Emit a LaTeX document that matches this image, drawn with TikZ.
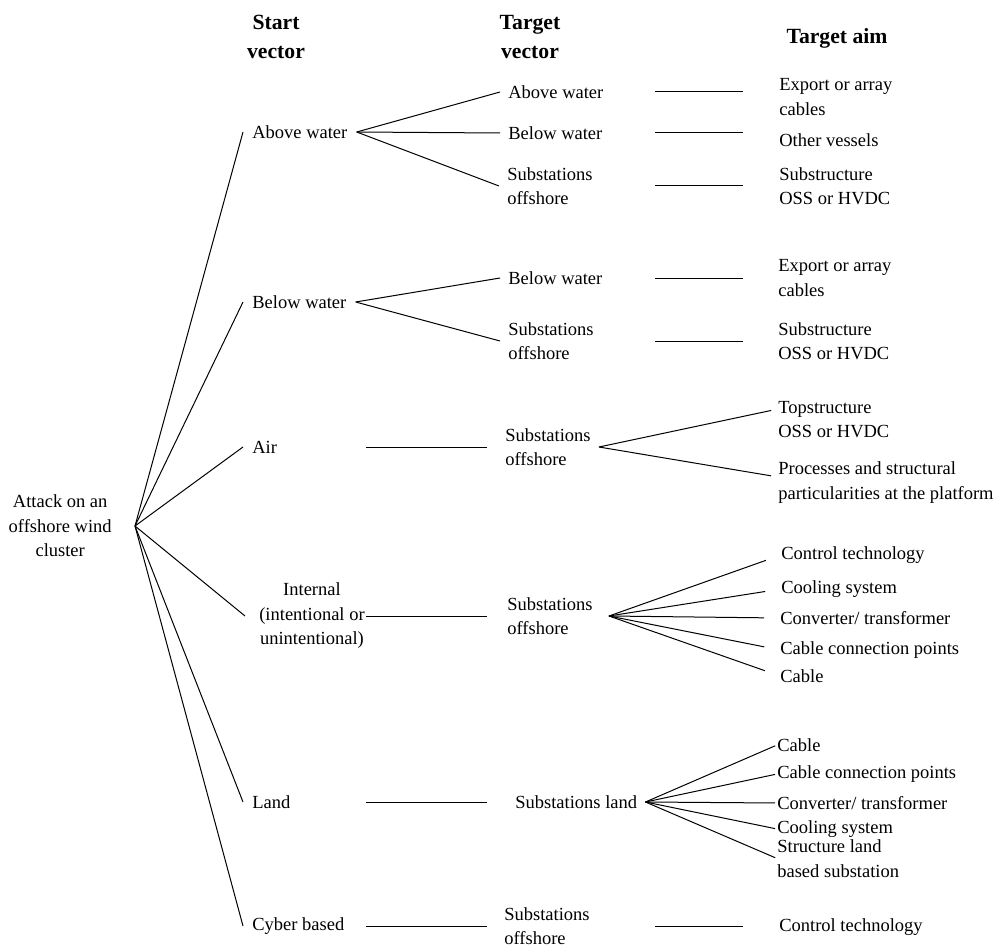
\documentclass[tikz,border=0pt]{standalone}
\usepackage{fontspec}
\setmainfont{Liberation Serif}

\begin{document}
\begin{tikzpicture}[x=0.6pt,y=-0.6pt,font=\fontsize{11.1}{14.7}\selectfont,
  link/.style={draw=black,line width=0.6pt},
  title/.style={align=center,font=\bfseries\fontsize{13}{17.4}\selectfont},
  startvec/.style={anchor=west,inner xsep=5.4pt,align=left},
  targetvec/.style={anchor=west,inner xsep=4.8pt,align=left},
  aimtext/.style={anchor=west,inner xsep=0pt,align=left}]
\useasboundingbox (0,0) rectangle (999,948);

% Column heads.
\node[title] (hstart) at (276,37) {Start\\vector};
\node[title] (htarget) at (530,37) {Target\\vector};
\node[title] (haim) at (837,38) {Target aim};

% Attack and the six start vectors.
\node[align=center,anchor=east,inner xsep=13.8pt] (root) at (135,526)
  {Attack on an\\offshore wind\\cluster};
\node[startvec] (sabove) at (243,132) {Above water};
\node[startvec] (sbelow) at (243,302) {Below water};
\node[startvec] (sair) at (243,447) {Air};
\node[startvec,align=center,inner xsep=8.4pt] (sinternal) at (245,616)
  {Internal\\(intentional or\\unintentional)};
\node[startvec] (sland) at (243,802) {Land};
\node[startvec] (scyber) at (243,926) {Cyber based};
\foreach \s in {sabove,sbelow,sair,sinternal,sland,scyber}
  \draw[link] (root.east)--(\s.west);

% Target vectors.
\node[targetvec] (tabove1) at (500,92) {Above water};
\node[targetvec] (tbelow1) at (500,133) {Below water};
\node[targetvec] (tsub1) at (499,186) {Substations\\offshore};
\node[targetvec] (tbelow2) at (500,278) {Below water};
\node[targetvec] (tsub2) at (500,341) {Substations\\offshore};
\node[targetvec] (tsubair) at (497,447) {Substations\\offshore};
\node[targetvec] (tsubint) at (499,616) {Substations\\offshore};
\node[targetvec] (tland) at (507,802) {Substations land};
\node[targetvec] (tcyber) at (496,926) {Substations\\offshore};
\foreach \t in {tabove1,tbelow1,tsub1}
  \draw[link] (sabove.east)--(\t.west);
\foreach \t in {tbelow2,tsub2}
  \draw[link] (sbelow.east)--(\t.west);

% Plain links sit in fixed columns between the texts.
\coordinate (colA) at (366,0);
\coordinate (colB) at (487,0);
\coordinate (colC) at (655,0);
\coordinate (colD) at (743,0);
\foreach \s/\t in {sair/tsubair,sinternal/tsubint,sland/tland,scyber/tcyber}
  \draw[link] (\s.east -| colA)--(\t.west -| colB);
\foreach \t in {tabove1,tbelow1,tsub1,tbelow2,tsub2,tcyber}
  \draw[link] (\t.east -| colC)--(\t.east -| colD);

% Target aims.
\node[aimtext] (aexport1) at (779,97) {Export or array\\cables};
\node[aimtext] (avessels) at (779,140) {Other vessels};
\node[aimtext] (asub1) at (779,186) {Substructure\\OSS or HVDC};
\node[aimtext] (aexport2) at (778,278) {Export or array\\cables};
\node[aimtext] (asub2) at (778,341) {Substructure\\OSS or HVDC};
\node[aimtext] (atop) at (778,419.5) {Topstructure\\OSS or HVDC};
\node[aimtext] (aproc) at (778,482.5)
  {Processes and structural\\particularities at the platform};
\node[aimtext] (actrl1) at (781,555) {Control technology};
\node[aimtext] (acool1) at (781,589) {Cooling system};
\node[aimtext] (aconv1) at (780,618) {Converter/ transformer};
\node[aimtext] (aconn1) at (780,650) {Cable connection points};
\node[aimtext] (acable1) at (780,676) {Cable};
\node[aimtext] (acable2) at (777,745) {Cable};
\node[aimtext] (aconn2) at (777,774) {Cable connection points};
\node[aimtext] (aconv2) at (777,803) {Converter/ transformer};
\node[aimtext] (acool2) at (777,829) {Cooling system};
\node[aimtext] (astruct) at (777,858.5) {Structure land\\based substation};
\node[aimtext] (actrl2) at (779,927) {Control technology};

% Fans towards the aims.
\draw[link,shorten >=4.2pt] (tsubair.east)--([yshift=6.3pt]atop.west);
\draw[link,shorten >=4.2pt] (tsubair.east)--([yshift=3.3pt]aproc.west);
\foreach \a in {actrl1,acool1,aconv1,aconn1,acable1}
  \draw[link,shorten >=9.6pt] ([xshift=4.8pt]tsubint.east)--(\a.west);
\foreach \a in {acable2,aconn2,aconv2,acool2,astruct}
  \draw[link,shorten >=1.2pt] (tland.east)--(\a.west);
\end{tikzpicture}
\end{document}
